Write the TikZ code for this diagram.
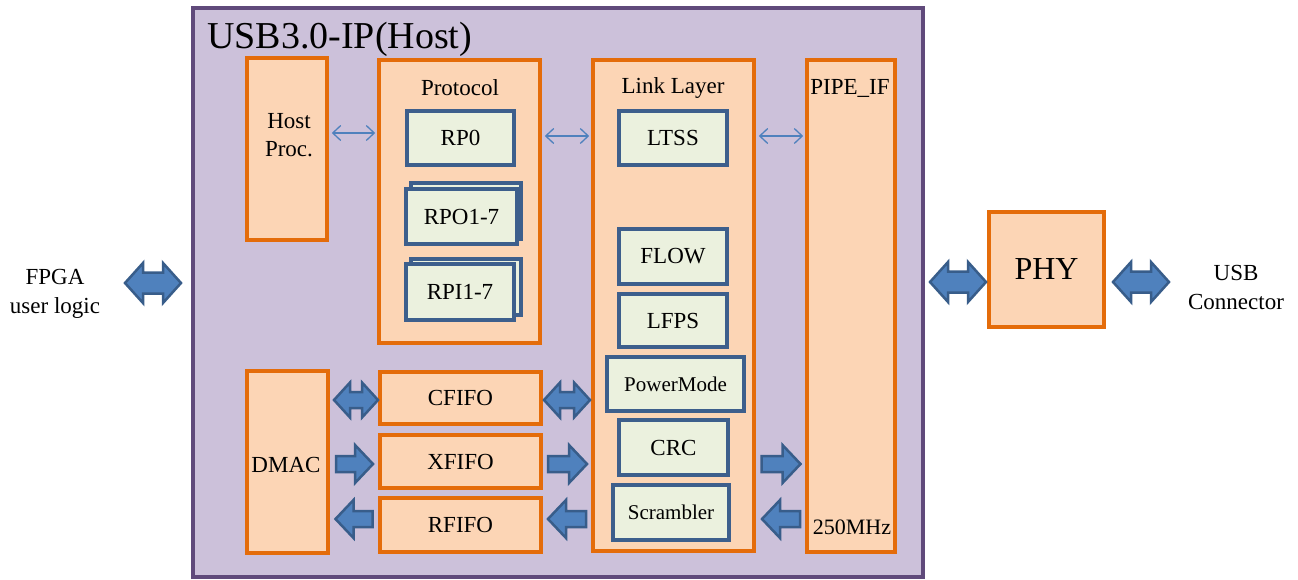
\documentclass[tikz,border=0pt]{standalone}
\usepackage{fontspec}
\setmainfont{Liberation Serif}
\usetikzlibrary{arrows.meta,calc}
\definecolor{purpfill}{HTML}{CCC1DA}
\definecolor{purpline}{HTML}{604A7B}
\definecolor{orfill}{HTML}{FCD5B5}
\definecolor{orline}{HTML}{E46C0A}
\definecolor{blfill}{HTML}{EBF1DE}
\definecolor{blline}{HTML}{3D5F8C}
\definecolor{arfill}{HTML}{4F81BD}
\definecolor{arline}{HTML}{385D8A}
\tikzset{
  txt/.style={font=\fontsize{23}{28}\selectfont, inner sep=0pt, text=black},
  outerbox/.style={draw=purpline, fill=purpfill, line width=4pt, inner sep=0pt},
  obox/.style={draw=orline, fill=orfill, line width=3.6pt, inner sep=0pt, txt},
  bbox/.style={draw=blline, fill=blfill, line width=4pt, inner sep=0pt, txt},
  fatarrow/.style={fill=arfill, draw=arline, line width=2.5pt, line join=miter},
  thinarrow/.style={draw=arfill, line width=1.3pt, {Straight Barb[length=8pt,width=15pt]}-{Straight Barb[length=8pt,width=15pt]}},
  pics/fatdbl/.style args={#1/#2/#3/#4}{code={
    \pgfmathsetmacro\aa{#1/2}\pgfmathsetmacro\bb{#2/2}\pgfmathsetmacro\cc{#3/2}\pgfmathsetmacro\dd{#1/2-#4}
    \path[fatarrow] (-\aa,0) -- (-\dd,-\bb) -- (-\dd,-\cc) -- (\dd,-\cc) -- (\dd,-\bb) -- (\aa,0)
      -- (\dd,\bb) -- (\dd,\cc) -- (-\dd,\cc) -- (-\dd,\bb) -- cycle;}},
  pics/fatone/.style args={#1/#2/#3/#4}{code={
    \pgfmathsetmacro\aa{#1/2}\pgfmathsetmacro\bb{#2/2}\pgfmathsetmacro\cc{#3/2}\pgfmathsetmacro\dd{#1/2-#4}
    \path[fatarrow] (-\aa,-\cc) -- (\dd,-\cc) -- (\dd,-\bb) -- (\aa,0) -- (\dd,\bb) -- (\dd,\cc)
      -- (-\aa,\cc) -- cycle;}},
}
\begin{document}
\begin{tikzpicture}[x=1pt,y=-1pt]
\useasboundingbox[fill=white] (0,0) rectangle (1298,580);
% outer box
\node[outerbox, minimum width=730, minimum height=569] (outer) at (558,292.5) {};
\node[txt, font=\fontsize{38}{44}\selectfont, anchor=base west] (title) at (207,49) {USB3.0-IP(Host)};
% host proc
\node[obox, minimum width=80, minimum height=182] (hp) at (287,149) {};
\node[txt, align=center] (hptxt) at (289,135) {Host\\[0pt]Proc.};
% protocol
\node[obox, minimum width=161, minimum height=283] (proto) at (459.5,201.5) {};
\node[txt] (prototxt) at (460,88) {Protocol};
\node[bbox, minimum width=107, minimum height=54] (rp0) at (460.5,138) {RP0};
\node[bbox, minimum width=110, minimum height=56] (rpob) at (466,211) {};
\node[bbox, minimum width=111, minimum height=55] (rpo) at (461.5,216.5) {RPO1-7};
\node[bbox, minimum width=110, minimum height=56] (rpib) at (466,287) {};
\node[bbox, minimum width=108, minimum height=56] (rpi) at (460,292) {RPI1-7};
% link layer
\node[obox, minimum width=161, minimum height=491] (link) at (673.5,305.5) {};
\node[txt] (linktxt) at (673,88) {Link Layer};
\node[bbox, minimum width=108, minimum height=54] (ltss) at (673,138) {LTSS};
\node[bbox, minimum width=108, minimum height=55] (flow) at (673,256.5) {FLOW};
\node[bbox, minimum width=108, minimum height=53] (lfps) at (673,320.5) {LFPS};
\node[bbox, minimum width=137, minimum height=54, font=\fontsize{21}{25}\selectfont] (pm) at (675.5,384) {PowerMode};
\node[bbox, minimum width=109, minimum height=55] (crc) at (673.5,447.5) {CRC};
\node[bbox, minimum width=116, minimum height=55, font=\fontsize{21}{25}\selectfont] (scr) at (671,512.5) {Scrambler};
% pipe
\node[obox, minimum width=88, minimum height=492] (pipe) at (851,306) {};
\node[txt] (pipetxt) at (850,88) {PIPE\_IF};
\node[txt, font=\fontsize{22}{26}\selectfont] (mhz) at (852,527) {250MHz};
% dmac / fifos
\node[obox, minimum width=81, minimum height=182] (dmac) at (287.5,462) {};
\node[txt] (dmactxt) at (286,465) {DMAC};
\node[obox, minimum width=161, minimum height=52] (cfifo) at (460.5,398) {CFIFO};
\node[obox, minimum width=161, minimum height=53] (xfifo) at (460.5,461.5) {XFIFO};
\node[obox, minimum width=161, minimum height=54] (rfifo) at (460.5,525) {RFIFO};
% phy and outside labels
\node[obox, minimum width=115, minimum height=115, font=\fontsize{32}{38}\selectfont] (phy) at (1046.5,269.5) {PHY};
\node[txt, align=center] (fpga) at (55,294) {FPGA\\[1pt]user logic};
\node[txt, align=center] (usb) at (1236,287) {USB\\[1pt]Connector};
% thin arrows
\draw[thinarrow] ($(hp.east |- 0,133)+(3,0)$) -- ($(proto.west |- 0,133)+(-2,0)$);
\draw[thinarrow] ($(proto.east |- 0,136)+(3,0)$) -- ($(link.west |- 0,136)+(-2,0)$);
\draw[thinarrow] ($(link.east |- 0,136)+(3,0)$) -- ($(pipe.west |- 0,136)+(-2,0)$);
% fat arrows outside
\pic at (153,283) {fatdbl=56/40/21/18};
\pic at (958,282) {fatdbl=56/40/21/18};
\pic at (1141,282) {fatdbl=56/40/21/18};
% fat arrows inside
\pic at (356,400) {fatdbl=44/35/16/16};
\pic at (567,400) {fatdbl=46/35/16/16};
\pic at (354.5,464) {fatone=37/38/16/18};
\pic at (567.5,464) {fatone=39/38/16/18};
\pic[rotate=180] at (354,519) {fatone=37/38/16/18};
\pic[rotate=180] at (567,519) {fatone=38/38/16/18};
\pic at (781,464) {fatone=39/38/16/18};
\pic[rotate=180] at (781,519) {fatone=38/38/16/18};
\end{tikzpicture}
\end{document}
